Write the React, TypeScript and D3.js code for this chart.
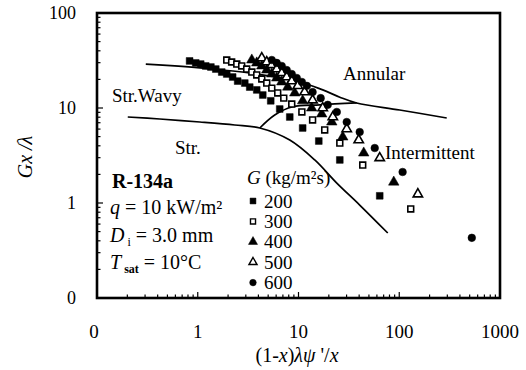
import React from "react";
import * as d3 from "d3";

// ---- data ----
const g200X = [0.83, 0.955, 1.07, 1.2, 1.35, 1.51, 1.73, 1.94, 2.22, 2.49, 2.93, 3.28, 3.85, 4.42, 5.3, 6.51, 8.19, 11.0, 15.9, 25.7, 64.0];
const g200Y = [31.3, 29.8, 29.0, 27.7, 27.0, 25.7, 23.9, 22.8, 21.2, 19.2, 18.3, 16.6, 15.5, 13.7, 11.9, 9.76, 8.04, 6.16, 4.49, 2.84, 1.19];
const g300X = [1.94, 2.17, 2.44, 2.73, 3.06, 3.44, 3.85, 4.32, 4.84, 5.43, 6.22, 7.14, 8.57, 10.8, 13.8, 18.2, 25.7, 43.4, 130];
const g300Y = [32.0, 30.5, 29.0, 27.7, 25.7, 23.9, 22.3, 20.2, 18.3, 16.2, 14.4, 12.7, 11.0, 9.08, 7.48, 5.87, 4.28, 2.51, 0.865];
const g400X = [3.44, 3.85, 4.32, 4.84, 5.43, 6.08, 6.82, 7.82, 9.18, 11.0, 13.5, 17.0, 21.4, 27.5, 44.4, 88.2];
const g400Y = [32.0, 29.8, 27.7, 25.1, 22.8, 20.7, 18.8, 16.6, 14.4, 11.9, 10.0, 8.65, 7.12, 4.95, 3.36, 1.66];
const g500X = [4.32, 4.84, 5.43, 6.08, 6.82, 7.64, 8.57, 9.84, 11.5, 13.8, 17.4, 21.9, 30.1, 39.6, 64.0, 153];
const g500Y = [33.6, 30.5, 28.4, 25.7, 23.4, 21.2, 19.2, 17.1, 14.7, 12.1, 10.0, 8.04, 6.01, 4.6, 2.98, 1.24];
const g600X = [5.43, 6.08, 6.82, 7.64, 8.57, 9.61, 10.8, 12.1, 13.8, 16.6, 19.5, 24.0, 30.1, 40.5, 57.1, 108, 525];
const g600Y = [32.0, 29.8, 27.7, 25.1, 22.8, 20.7, 18.8, 17.1, 14.7, 12.7, 10.8, 9.08, 7.12, 5.59, 3.79, 2.12, 0.43];

// transition boundaries
const annX = [0.305, 0.591, 1.05, 3.28, 10.3, 17.4, 25.7, 37.8, 101, 296];
const annY = [29.0, 27.7, 26.4, 23.4, 18.8, 15.5, 13.0, 11.3, 9.53, 7.85];
const intX = [4.13, 5.81, 8.77, 16.3, 37.8];
const intY = [6.16, 8.44, 10.3, 10.8, 11.3];
const strX = [0.202, 0.42, 1.05, 2.33, 4.13, 8.19, 14.5, 24.0, 40.5, 76.9];
const strY = [8.04, 7.66, 7.12, 6.62, 6.16, 4.6, 2.84, 1.62, 0.952, 0.483];

const xTickVals = [0.1, 1, 10, 100, 1000];
const xTickLabels = ["0", "1", "10", "100", "1000"];
const yTickVals = [0.1, 1, 10, 100];
const yTickLabels = ["0", "1", "10", "100"];

const legendLabels = ["200", "300", "400", "500", "600"];

const FONT = '"Liberation Serif", "Times New Roman", Times, "DejaVu Serif", serif';

export default function App() {
  const L = 97, R = 500, T = 13, B = 298;
  const x = d3.scaleLog().domain([0.1, 1000]).range([L, R]);
  const y = d3.scaleLog().domain([0.1, 100]).range([B, T]);

  const series = [
    { xs: g200X, ys: g200Y, type: d3.symbolSquare, fill: true, size: 46 },
    { xs: g300X, ys: g300Y, type: d3.symbolSquare, fill: false, size: 34 },
    { xs: g400X, ys: g400Y, type: d3.symbolTriangle, fill: true, size: 48 },
    { xs: g500X, ys: g500Y, type: d3.symbolTriangle, fill: false, size: 38 },
    { xs: g600X, ys: g600Y, type: d3.symbolCircle, fill: true, size: 46 },
  ];

  const line = d3
    .line<[number, number]>()
    .x((d) => x(d[0]))
    .y((d) => y(d[1]))
    .curve(d3.curveCatmullRom.alpha(0.5));

  const mk = (xs: number[], ys: number[]) => xs.map((v, i) => [v, ys[i]] as [number, number]);

  const xMinor: number[] = [];
  for (let p = -1; p < 3; p++) for (let k = 2; k <= 9; k++) xMinor.push(k * Math.pow(10, p));
  const yMinor: number[] = [];
  for (let p = -1; p < 2; p++) for (let k = 2; k <= 9; k++) yMinor.push(k * Math.pow(10, p));

  const sym = (t: any, s: number) => d3.symbol().type(t).size(s)() as string;

  const legX = 253;
  const legY0 = 201;
  const legDY = 20.4;

  return (
    <svg width={526} height={370} style={{ display: "block", position: "absolute", left: 0, top: 0, fontFamily: FONT }}>
      <rect x={0} y={0} width={526} height={370} fill="#fff" />
      <g fill="none" stroke="#000" strokeWidth={1.7}>
        <path d={line(mk(annX, annY)) || ""} />
        <path d={line(mk(intX, intY)) || ""} />
        <path d={line(mk(strX, strY)) || ""} />
      </g>

      {series.map((s, si) => (
        <g key={si}>
          {s.xs.map((v, i) => (
            <path
              key={i}
              d={sym(s.type, s.size)}
              transform={`translate(${x(v)},${y(s.ys[i])})`}
              fill={s.fill ? "#000" : "#fff"}
              stroke="#000"
              strokeWidth={s.fill ? 0.5 : 1.6}
            />
          ))}
        </g>
      ))}

      <rect x={L} y={T} width={R - L} height={B - T} fill="none" stroke="#000" strokeWidth={2.6} />

      <g stroke="#000" strokeWidth={1.2}>
        {xMinor.map((v, i) => (
          <line key={"xm" + i} x1={x(v)} x2={x(v)} y1={B} y2={B - 3.5} />
        ))}
        {xTickVals.map((v, i) => (
          <line key={"xM" + i} x1={x(v)} x2={x(v)} y1={B} y2={B - 6} />
        ))}
        {yMinor.map((v, i) => (
          <line key={"ym" + i} x1={L} x2={L + 3.5} y1={y(v)} y2={y(v)} />
        ))}
        {yTickVals.map((v, i) => (
          <line key={"yM" + i} x1={L} x2={L + 6} y1={y(v)} y2={y(v)} />
        ))}
      </g>

      <g fontSize={19} fill="#000">
        {xTickVals.map((v, i) => (
          <text key={"xl" + i} x={x(v) - (i === 0 ? 3 : 0)} y={338} textAnchor="middle">
            {xTickLabels[i]}
          </text>
        ))}
      </g>
      <g fontSize={18} fill="#000">
        {yTickVals.map((v, i) => (
          <text key={"yl" + i} x={76} y={y(v) + 6} textAnchor="end">
            {yTickLabels[i]}
          </text>
        ))}
      </g>

      <text x={297} y={362} textAnchor="middle" fontSize={20}>
        (1-<tspan fontStyle="italic">x</tspan>)<tspan fontStyle="italic">λψ</tspan> '/<tspan fontStyle="italic">x</tspan>
      </text>
      <text transform="translate(32,157) rotate(-90)" textAnchor="middle" fontSize={20} fontStyle="italic">
        Gx /λ
      </text>

      <g fontSize={19}>
        <text x={112} y={102}>Str.Wavy</text>
        <text x={175} y={154}>Str.</text>
        <text x={343} y={80}>Annular</text>
        <text x={385} y={159}>Intermittent</text>
      </g>

      <g fontSize={20}>
        <text x={112} y={188} fontWeight="bold">R-134a</text>
        <text x={110} y={214}>
          <tspan fontStyle="italic">q</tspan>  =  10 kW/m²
        </text>
        <text x={110} y={242}>
          <tspan fontStyle="italic">D</tspan>
          <tspan fontSize={12} dy={4}> i</tspan>
          <tspan dy={-4}> = 3.0 mm</tspan>
        </text>
        <text x={110} y={269}>
          <tspan fontStyle="italic">T</tspan>
          <tspan fontSize={12} dy={4} fontWeight="bold"> sat</tspan>
          <tspan dy={-4}> = 10°C</tspan>
        </text>
      </g>

      <g fontSize={19}>
        <text x={247} y={184}>
          <tspan fontStyle="italic">G</tspan>{"  "}(kg/m²s)
        </text>
        {series.map((s, i) => (
          <g key={"lg" + i}>
            <path
              d={sym(s.type, s.size * 0.75)}
              transform={`translate(${legX},${legY0 + i * legDY})`}
              fill={s.fill ? "#000" : "#fff"}
              stroke="#000"
              strokeWidth={s.fill ? 0.5 : 1.4}
            />
            <text x={264} y={legY0 + i * legDY + 6.5}>
              {legendLabels[i]}
            </text>
          </g>
        ))}
      </g>
    </svg>
  );
}
